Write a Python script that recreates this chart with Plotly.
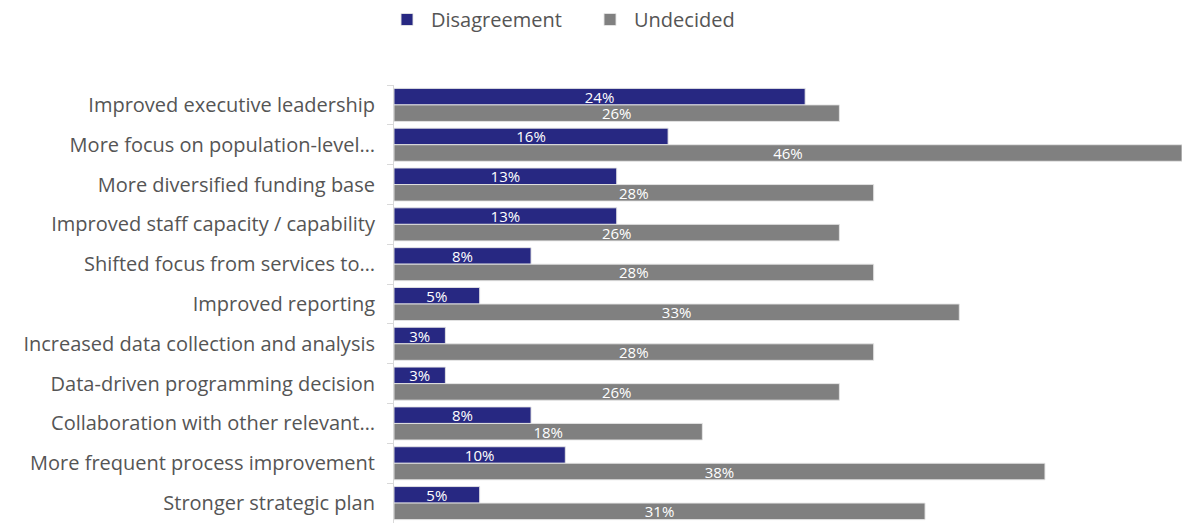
import plotly.graph_objects as go

categories = [
    "Improved executive leadership",
    "More focus on population-level…",
    "More diversified funding base",
    "Improved staff capacity / capability",
    "Shifted focus from services to…",
    "Improved reporting",
    "Increased data collection and analysis",
    "Data-driven programming decision",
    "Collaboration with other relevant…",
    "More frequent process improvement",
    "Stronger strategic plan",
]
disagreement = [24, 16, 13, 13, 8, 5, 3, 3, 8, 10, 5]
undecided = [26, 46, 28, 26, 28, 33, 28, 26, 18, 38, 31]

navy = "#272882"
gray = "#808080"
font_family = "'Open Sans', Lato, sans-serif"

fig = go.Figure()
for name, vals, color in [("Disagreement", disagreement, navy), ("Undecided", undecided, gray)]:
    fig.add_trace(go.Bar(
        name=name,
        y=categories,
        x=vals,
        orientation="h",
        marker=dict(color=color, line=dict(color="rgba(230,230,230,0.9)", width=1)),
        text=[f"{v}%" for v in vals],
        textposition="inside",
        insidetextanchor="middle",
        constraintext="none",
        textfont=dict(color="white", size=15, family=font_family),
        cliponaxis=False,
    ))

fig.update_layout(
    width=1182,
    height=523,
    barmode="group",
    bargap=0.17,
    bargroupgap=0.0,
    plot_bgcolor="white",
    paper_bgcolor="white",
    margin=dict(l=394, r=0, t=85, b=0),
    font=dict(family=font_family, color="#555555", size=20),
    legend=dict(
        orientation="h",
        xref="container", x=383 / 1182, xanchor="left",
        yref="container", y=1.0, yanchor="top",
        font=dict(size=20, color="#555555"),
        itemwidth=38,
        entrywidth=150,
        traceorder="normal",
    ),
    showlegend=True,
)
fig.update_xaxes(range=[0, 46], visible=False)
fig.update_yaxes(
    autorange="reversed",
    showline=True,
    linecolor="#d9d9d9",
    linewidth=1,
    ticks="outside",
    tickson="boundaries",
    ticklen=6,
    tickcolor="#d9d9d9",
    ticklabelstandoff=14,
    tickfont=dict(size=20, color="#555555"),
    showgrid=False,
)

fig.write_html("out.html")
